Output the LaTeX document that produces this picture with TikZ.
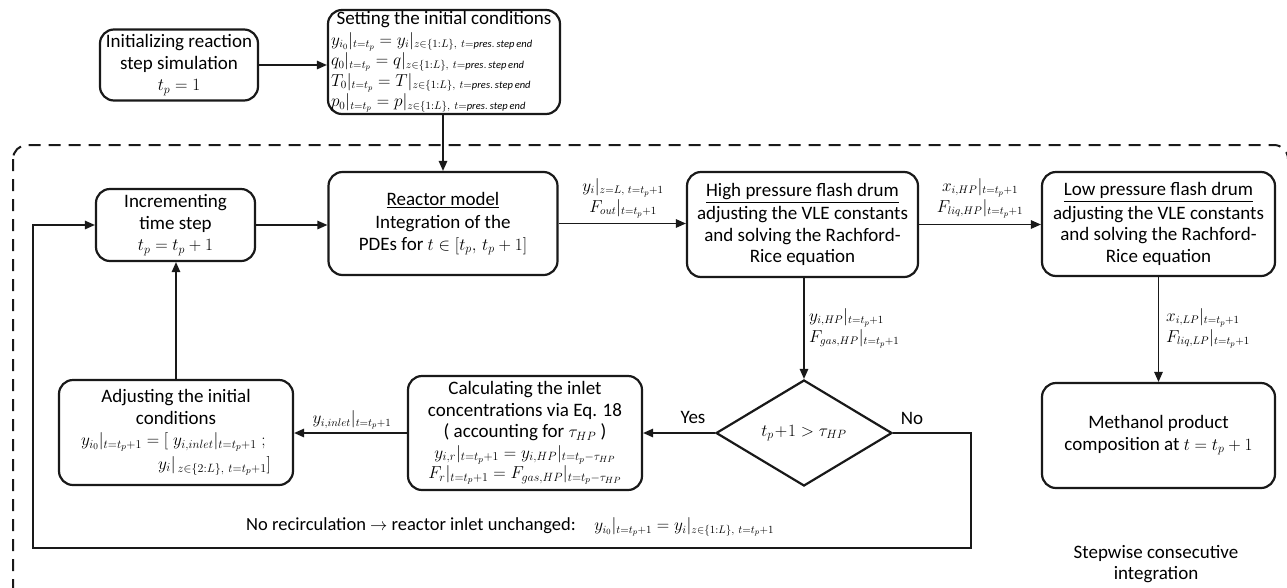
\documentclass[tikz,border=0pt]{standalone}
\usepackage{amsmath}
\usepackage{fontspec}
\setmainfont{Carlito}
\usetikzlibrary{shapes.geometric,arrows.meta}
\DeclareMathSizes{19}{19}{11.5}{9}
\DeclareMathSizes{18.5}{18.5}{10.5}{8}
\DeclareMathSizes{16}{16}{10.5}{8}
\newcommand\myfs{\fontsize{19}{21.5}\selectfont}
\newcommand\mylb{\fontsize{16}{21}\selectfont}
\newcommand\myst{\fontsize{18.5}{20.5}\selectfont}
\begin{document}
\begin{tikzpicture}[x=1pt,y=-1pt,
  box/.style={draw=black!90, line width=2.2pt, rounded corners=14pt, align=center, inner sep=0pt, font=\myfs},
  arr/.style={draw=black!90, line width=1.3pt, -{Triangle[length=10pt,width=8.5pt]}},
  lbl/.style={font=\mylb, inner sep=1pt, align=center}]
\useasboundingbox (0,0) rectangle (1287,587);
\clip (0,0) rectangle (1287,587);
% dashed frame
\draw[line width=2pt, dash pattern=on 12pt off 8pt, rounded corners=14pt, black!90] (13,145) rectangle (1288,600);
% nodes
\node[box, minimum width=158pt, minimum height=71pt] (init) at (179,65)
  {Initializing reaction\\ step simulation\\ $t_p = 1$};
\node[box, minimum width=232pt, minimum height=104pt, font=\myst] (set) at (444,62)
  {\fontsize{19}{21}\selectfont Setting the initial conditions\\
   \makebox[226pt][l]{$y_{i_0}|_{t=t_p} = y_i|_{z\in\{1:L\},\ t=\mathit{pres.\,step\,end}}$}\\
   \makebox[226pt][l]{$q_0|_{t=t_p} = q|_{z\in\{1:L\},\ t=\mathit{pres.\,step\,end}}$}\\
   \makebox[226pt][l]{$T_0|_{t=t_p} = T|_{z\in\{1:L\},\ t=\mathit{pres.\,step\,end}}$}\\
   \makebox[226pt][l]{$p_0|_{t=t_p} = p|_{z\in\{1:L\},\ t=\mathit{pres.\,step\,end}}$}};
\node[box, minimum width=159pt, minimum height=72pt] (inc) at (175.5,225)
  {Incrementing\\ time step\\ $t_p = t_p + 1$};
\node[box, minimum width=229pt, minimum height=103pt] (reac) at (443,223.5)
  {\underline{Reactor model}\\[2pt] Integration of the\\ PDEs for $t\in[t_p,\,t_p+1]$};
\node[box, minimum width=231pt, minimum height=105pt] (hp) at (802.5,224.5)
  {\underline{High pressure flash drum}\\[2pt] adjusting the VLE constants\\ and solving the Rachford-\\ Rice equation};
\node[box, minimum width=233pt, minimum height=104pt] (lp) at (1158.5,224)
  {\underline{Low pressure flash drum}\\[2pt] adjusting the VLE constants\\ and solving the Rachford-\\ Rice equation};
\node[box, minimum width=234pt, minimum height=105pt] (adj) at (176,432.5)
  {Adjusting the initial\\ conditions\\
   \makebox[190pt][l]{$y_{i_0}|_{t=t_p+1} = [\;y_{i,inlet}|_{t=t_p+1}\;;$}\\[2pt]
   \makebox[190pt][r]{$y_i|_{\,z\in\{2:L\},\ t=t_p+1}]$}};
\node[box, minimum width=234pt, minimum height=114pt] (calc) at (525,433)
  {Calculating the inlet\\ concentrations via Eq. 18\\ ( accounting for $\tau_{HP}$ )\\[-1pt]
   $y_{i,r}|_{t=t_p+1} = y_{i,HP}|_{t=t_p-\tau_{HP}}$\\[-1pt]
   $F_r|_{t=t_p+1} = F_{gas,HP}|_{t=t_p-\tau_{HP}}$};
\node[draw=black!90, line width=2.2pt, shape=diamond, aspect=1.66, minimum width=176pt, minimum height=106pt, inner sep=0pt, font=\myfs] (dia) at (804,433)
  {$t_p\!+\!1 > \tau_{HP}$};
\node[box, minimum width=233pt, minimum height=105pt] (meth) at (1158.5,435.5)
  {Methanol product\\ composition at $t = t_p + 1$};
% connectors
\draw[arr] (init.east) -- (init.east -| set.west);
\draw[arr] (set.south -| reac.north) -- (reac.north);
\draw[arr] (inc.east) -- (inc.east -| reac.west);
\draw[arr] (reac.east) -- (reac.east -| hp.west);
\node[lbl] (l1) at (623,198) {$y_i|_{z=L,\ t=t_p+1}$\\ $F_{out}|_{t=t_p+1}$};
\draw[arr] (hp.east) -- (hp.east -| lp.west);
\node[lbl] (l2) at (980,198) {$x_{i,HP}|_{t=t_p+1}$\\ $F_{liq,HP}|_{t=t_p+1}$};
\draw[arr] (hp.south -| dia.north) -- (dia.north);
\node[lbl, anchor=west, align=left] (l3) at (808,328) {$y_{i,HP}|_{t=t_p+1}$\\ $F_{gas,HP}|_{t=t_p+1}$};
\draw[arr] (lp.south -| meth.north) -- (meth.north);
\node[lbl, anchor=west, align=left] (l4) at (1165,328) {$x_{i,LP}|_{t=t_p+1}$\\ $F_{liq,LP}|_{t=t_p+1}$};
\draw[arr] (dia.west) -- (dia.west -| calc.east);
\node[lbl, font=\myfs] (yes) at (693,417) {Yes};
\node[lbl, font=\myfs] (no) at (912,418) {No};
\draw[arr] (calc.west) -- (calc.west -| adj.east);
\node[lbl] (l5) at (352,420) {$y_{i,inlet}|_{t=t_p+1}$};
\draw[arr] (adj.north) -- (adj.north |- inc.south);
\coordinate (c1) at (971,433);
\coordinate (c2) at (971,548);
\coordinate (c3) at (33,548);
\coordinate (c4) at (33,225);
\draw[arr] (dia.east) -- (c1) -- (c2) -- (c3) -- (c4) -- (c4 -| inc.west);
\node[lbl, anchor=west, font=\myst] (bot) at (245,527)
  {No recirculation $\rightarrow$ reactor inlet unchanged:\quad $y_{i_0}|_{t=t_p+1} = y_i|_{z\in\{1:L\},\ t=t_p+1}$};
\node[lbl, font=\myfs] (sw) at (1156,564) {Stepwise consecutive\\ integration};
\end{tikzpicture}
\end{document}
